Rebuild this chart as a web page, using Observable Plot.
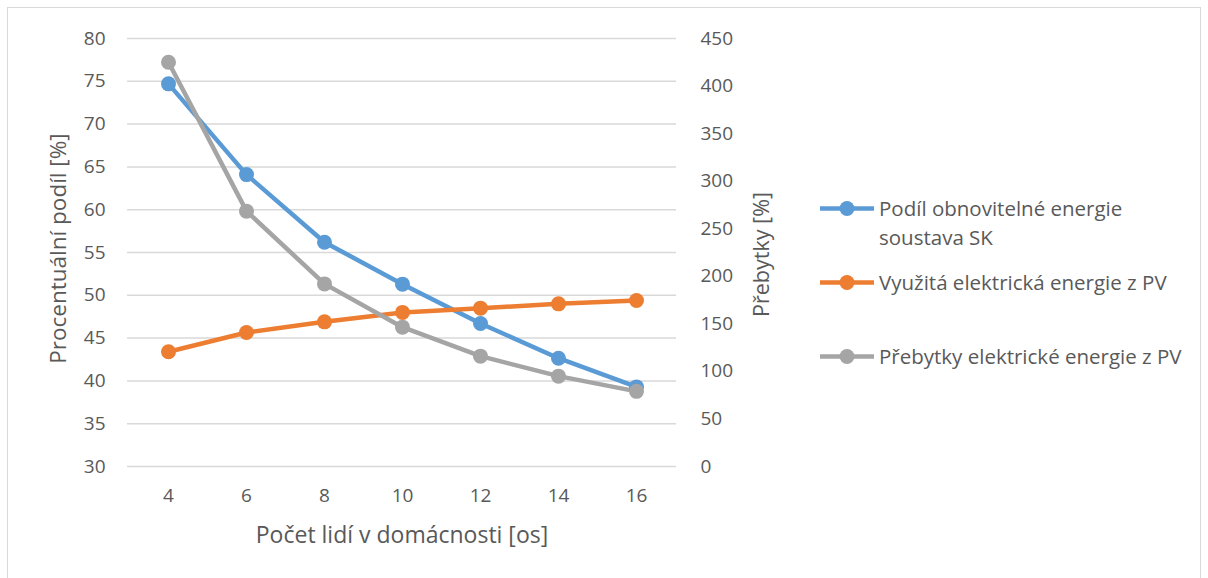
<!DOCTYPE html>
<html>
<head>
<meta charset="utf-8">
<script src="https://cdn.jsdelivr.net/npm/d3@7"></script>
<script src="https://cdn.jsdelivr.net/npm/@observablehq/plot@0.6"></script>
<style>
  body { margin: 0; background: #fff; }
  #wrap { position: relative; width: 1208px; height: 578px; overflow: hidden; font-family: "Open Sans", Lato, sans-serif; color: #595959; }
  #frame { position: absolute; left: 7px; top: 7px; width: 1194px; height: 620px; border: 1px solid #d9d9d9; box-sizing: border-box; }
  #chart { position: absolute; left: 0; top: 0; }
  .leg { position: absolute; left: 819px; display: flex; align-items: flex-start; font-size: 20.5px; line-height: 29px; }
  .leg svg { flex: none; }
  .leg span { margin-left: 4px; white-space: nowrap; }
</style>
</head>
<body>
<div id="wrap">
  <div id="frame"></div>
  <div id="chart"></div>
  <div id="legend"></div>
</div>
<script>
const people = [4, 6, 8, 10, 12, 14, 16];
const podil = [74.7, 64.1, 56.2, 51.3, 46.7, 42.65, 39.3];
const vyuzita = [43.4, 45.65, 46.9, 48.0, 48.5, 49.0, 49.4];
const prebytky = [425, 268.5, 192, 146.5, 116, 95, 79];
const leftTicks = [30, 35, 40, 45, 50, 55, 60, 65, 70, 75, 80];
const rightTicks = [0, 50, 100, 150, 200, 250, 300, 350, 400, 450];
const seriesNames = ["Podíl obnovitelné energie soustava SK", "Využitá elektrická energie z PV", "Přebytky elektrické energie z PV"];
const colors = ["#5B9BD5", "#ED7D31", "#A5A5A5"];

// secondary axis mapping: right [0,450] -> left [30,80]
const toLeft = v => 30 + v * 50 / 450;
const fromLeft = t => Math.round((t - 30) * 450 / 50);

const rows = [];
people.forEach((p, i) => {
  rows.push({p, s: 0, y: podil[i]});
  rows.push({p, s: 1, y: vyuzita[i]});
  rows.push({p, s: 2, y: toLeft(prebytky[i])});
});

const plot = Plot.plot({
  width: 1208,
  height: 578,
  marginLeft: 127,
  marginRight: 532,
  marginTop: 38,
  marginBottom: 112,
  style: { fontFamily: "'Open Sans', Lato, sans-serif", color: "#595959", background: "transparent" },
  x: { type: "point", domain: people, padding: 0.5 },
  y: { domain: [30, 80] },
  marks: [
    Plot.gridY(leftTicks, { stroke: "#d9d9d9", strokeOpacity: 1, strokeWidth: 1.5 }),
    Plot.axisY(leftTicks, { anchor: "left", tickSize: 0, tickPadding: 22, fontSize: 19, fill: "#595959", label: null }),
    Plot.axisY(rightTicks.map(toLeft), { anchor: "right", tickSize: 0, tickPadding: 24, fontSize: 19, fill: "#595959", label: null, tickFormat: fromLeft }),
    Plot.axisX(people, { anchor: "bottom", tickSize: 0, tickPadding: 22, fontSize: 19, fill: "#595959", label: null }),
    Plot.text(["Procentuální podíl [%]"], { frameAnchor: "left", textAnchor: "middle", lineAnchor: "middle", dx: -69, dy: -4, rotate: -90, fontSize: 22.5, fill: "#595959" }),
    Plot.text(["Přebytky [%]"], { frameAnchor: "right", textAnchor: "middle", lineAnchor: "middle", dx: 86, dy: 2, rotate: -90, fontSize: 21.5, fill: "#595959" }),
    Plot.text(["Počet lidí v domácnosti [os]"], { frameAnchor: "bottom", lineAnchor: "middle", dy: 69, fontSize: 23, fill: "#595959" }),
    ...[0, 1, 2].map(s => Plot.line(rows.filter(d => d.s === s), { x: "p", y: "y", stroke: colors[s], strokeWidth: 4.5 })),
    ...[0, 1, 2].map(s => Plot.dot(rows.filter(d => d.s === s), { x: "p", y: "y", fill: colors[s], r: 7.5 }))
  ]
});
document.getElementById("chart").appendChild(plot);

// legend
const legTops = [194, 268, 342];
const legend = document.getElementById("legend");
seriesNames.forEach((name, i) => {
  const div = document.createElement("div");
  div.className = "leg";
  div.style.top = legTops[i] + "px";
  const sw = `<svg width="56" height="29"><line x1="1" y1="14.5" x2="55" y2="14.5" stroke="${colors[i]}" stroke-width="4.5"/><circle cx="28" cy="14.5" r="7.5" fill="${colors[i]}"/></svg>`;
  const label = i === 0 ? "Podíl obnovitelné energie<br>soustava SK" : name;
  div.innerHTML = sw + `<span>${label}</span>`;
  legend.appendChild(div);
});
</script>
</body>
</html>
